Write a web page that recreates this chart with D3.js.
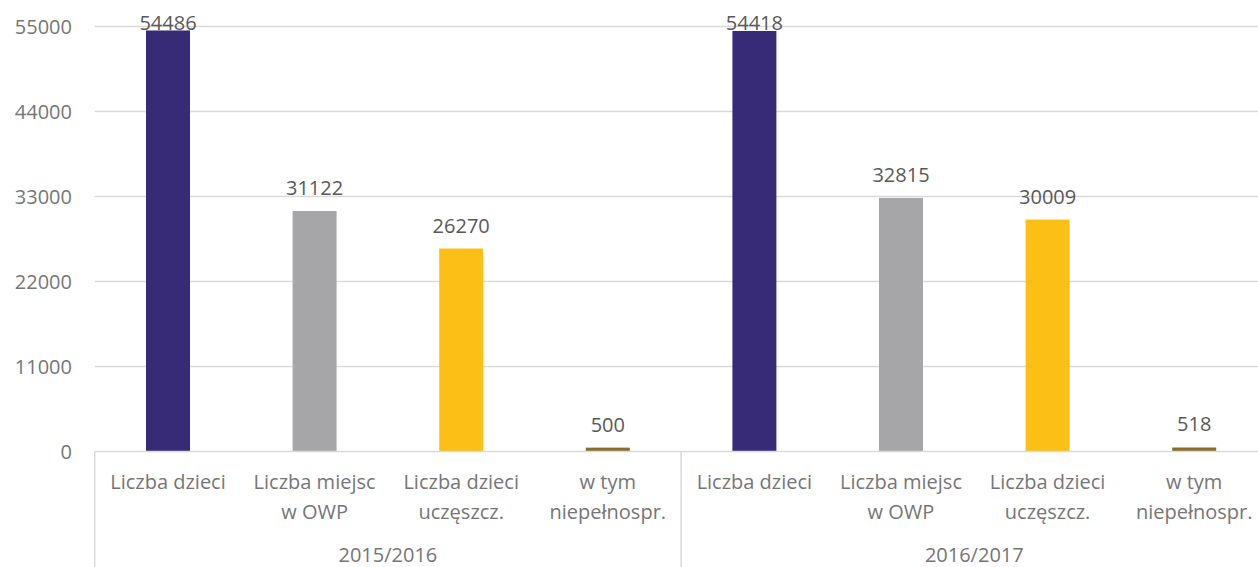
<!DOCTYPE html>
<html>
<head>
<meta charset="utf-8">
<script src="https://cdn.jsdelivr.net/npm/d3@7"></script>
<style>
  html, body { margin: 0; padding: 0; background: #fff; }
  svg { display: block; font-family: "Open Sans", Lato, sans-serif; }
</style>
</head>
<body>
<svg id="chart" width="1258" height="567"></svg>
<script>
// School years (outer groups)
const years = ["2015/2016", "2016/2017"];
// Measures shown for each year
const categories = ["Liczba dzieci", "Liczba miejsc w OWP", "Liczba dzieci uczęszcz.", "w tym niepełnospr."];
// Category labels split into lines
const categoryLines = [["Liczba dzieci"], ["Liczba miejsc", "w OWP"], ["Liczba dzieci", "uczęszcz."], ["w tym", "niepełnospr."]];
// Values per year
const values2015 = [54486, 31122, 26270, 500];
const values2016 = [54418, 32815, 30009, 518];
// Y axis ticks
const yTicks = [0, 11000, 22000, 33000, 44000, 55000];
// Bar colours per measure
const colors = ["#372a76", "#a6a6a8", "#fbbf16", "#8a6c2d"];

const seriesByYear = [values2015, values2016];

(function draw() {
  const svg = d3.select("#chart");
  const plotLeft = 94.7, plotRight = 1267.5, plotBottom = 451.5, plotTop = 26.5;

  const x0 = d3.scaleBand().domain(years).range([plotLeft, plotRight]).padding(0);
  const x1 = d3.scaleBand().domain(categories).range([0, x0.bandwidth()])
    .paddingInner(0.7).paddingOuter(0.35);
  const y = d3.scaleLinear().domain([0, 55000]).range([plotBottom, plotTop]);

  // Gridlines
  svg.append("g").selectAll("line").data(yTicks.slice(1)).join("line")
    .attr("x1", plotLeft).attr("x2", 1258)
    .attr("y1", d => y(d)).attr("y2", d => y(d))
    .attr("stroke", "#d9d9d9").attr("stroke-width", 1.5);

  // Y tick labels
  svg.append("g").selectAll("text").data(yTicks).join("text")
    .attr("x", 72).attr("y", d => y(d) + 7.5)
    .attr("text-anchor", "end")
    .attr("fill", "#767676").attr("font-size", 20)
    .text(d => d);

  // Bars, value labels and category labels per year
  const groups = svg.append("g").selectAll("g").data(years).join("g")
    .attr("transform", d => `translate(${x0(d)},0)`);

  groups.each(function(yr, i) {
    const g = d3.select(this);
    const vals = seriesByYear[i];
    const data = categories.map((c, j) => ({ c, v: vals[j], col: colors[j], lines: categoryLines[j] }));
    g.selectAll("rect").data(data).join("rect")
      .attr("x", d => x1(d.c)).attr("width", x1.bandwidth())
      .attr("y", d => y(d.v)).attr("height", d => plotBottom - y(d.v))
      .attr("fill", d => d.col);
    g.selectAll("text.val").data(data).join("text").attr("class", "val")
      .attr("x", d => x1(d.c) + x1.bandwidth() / 2)
      .attr("y", d => Math.max(y(d.v) - 16, 30))
      .attr("text-anchor", "middle")
      .attr("fill", "#595959").attr("font-size", 20)
      .text(d => d.v);
    const cl = g.selectAll("text.cat").data(data).join("text").attr("class", "cat")
      .attr("text-anchor", "middle")
      .attr("fill", "#767676").attr("font-size", 20);
    cl.selectAll("tspan").data(d => d.lines.map(l => ({ l, x: x1(d.c) + x1.bandwidth() / 2 }))).join("tspan")
      .attr("x", d => d.x)
      .attr("y", (d, k) => 489 + k * 30)
      .text(d => d.l);
    g.append("text")
      .attr("x", x0.bandwidth() / 2).attr("y", 562)
      .attr("text-anchor", "middle")
      .attr("fill", "#767676").attr("font-size", 20)
      .text(yr);
  });

  // Baseline and group separators
  svg.append("line").attr("x1", plotLeft).attr("x2", 1258).attr("y1", plotBottom).attr("y2", plotBottom)
    .attr("stroke", "#d9d9d9").attr("stroke-width", 1.5);
  svg.append("g").selectAll("line").data([plotLeft, x0(years[1])]).join("line")
    .attr("x1", d => d).attr("x2", d => d).attr("y1", plotBottom).attr("y2", 567)
    .attr("stroke", "#d9d9d9").attr("stroke-width", 1.5);
})();
</script>
</body>
</html>
